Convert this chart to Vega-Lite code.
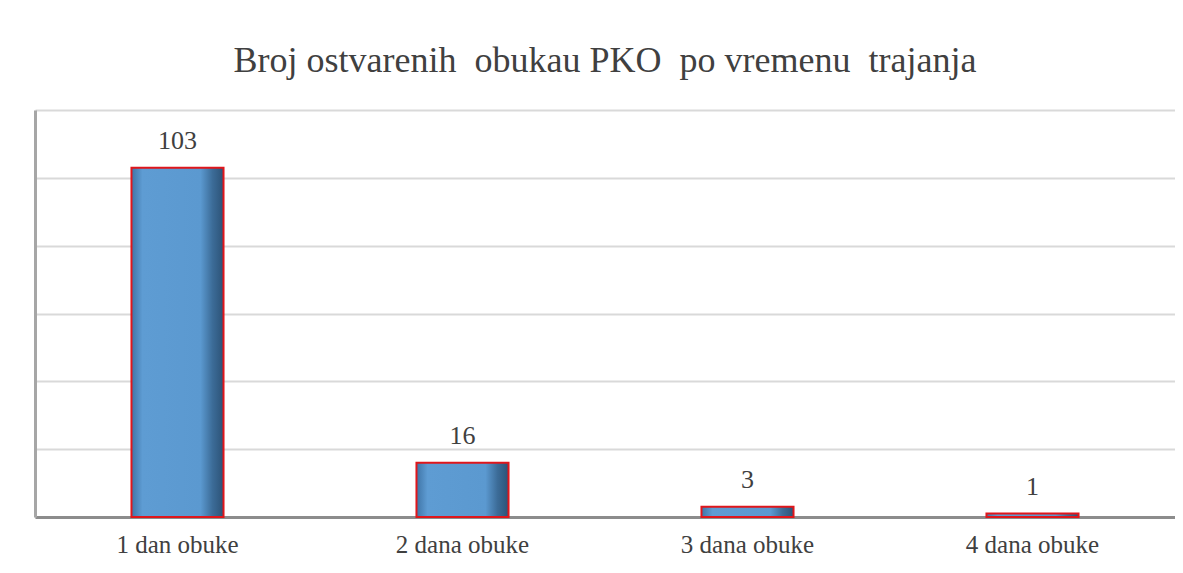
{
  "$schema": "https://vega.github.io/schema/vega-lite/v6.json",
  "width": 1140,
  "height": 407,
  "padding": {"left": 35, "top": 43, "right": 0, "bottom": 0},
  "background": "white",
  "title": {
    "text": "Broj ostvarenih \u00a0obukau PKO \u00a0po vremenu \u00a0trajanja",
    "font": "Liberation Serif",
    "fontSize": 36,
    "fontWeight": "normal",
    "color": "#404040",
    "anchor": "middle",
    "offset": 30
  },
  "data": {
    "values": [
      {"kategorija": "1 dan obuke", "broj": 103},
      {"kategorija": "2 dana obuke", "broj": 16},
      {"kategorija": "3 dana obuke", "broj": 3},
      {"kategorija": "4 dana obuke", "broj": 1}
    ]
  },
  "encoding": {
    "x": {
      "field": "kategorija",
      "type": "nominal",
      "sort": null,
      "scale": {"paddingInner": 0.677, "paddingOuter": 0.3385},
      "axis": {
        "title": null,
        "labelAngle": 0,
        "labelFont": "Liberation Serif",
        "labelFontSize": 25,
        "labelColor": "#404040",
        "labelPadding": 15,
        "ticks": false,
        "domainColor": "#8c8c8c",
        "domainWidth": 3
      }
    },
    "y": {
      "field": "broj",
      "type": "quantitative",
      "scale": {"domain": [0, 120]},
      "axis": {
        "title": null,
        "labels": false,
        "ticks": false,
        "values": [0, 20, 40, 60, 80, 100, 120],
        "gridColor": "#d9d9d9",
        "gridWidth": 2,
        "domainColor": "#a6a6a6",
        "domainWidth": 3
      }
    }
  },
  "layer": [
    {
      "mark": {
        "type": "bar",
        "stroke": "#e0161b",
        "strokeWidth": 2,
        "color": {
          "gradient": "linear",
          "x1": 0, "y1": 0, "x2": 1, "y2": 0,
          "stops": [
            {"offset": 0, "color": "#3f74a6"},
            {"offset": 0.12, "color": "#5e9cd3"},
            {"offset": 0.75, "color": "#5b99d0"},
            {"offset": 0.88, "color": "#3c6c98"},
            {"offset": 1, "color": "#2c5276"}
          ]
        }
      }
    },
    {
      "mark": {
        "type": "text",
        "baseline": "alphabetic",
        "dy": -19,
        "font": "Liberation Serif",
        "fontSize": 26,
        "color": "#404040"
      },
      "encoding": {"text": {"field": "broj", "type": "quantitative"}}
    }
  ],
  "config": {"view": {"stroke": null}}
}
